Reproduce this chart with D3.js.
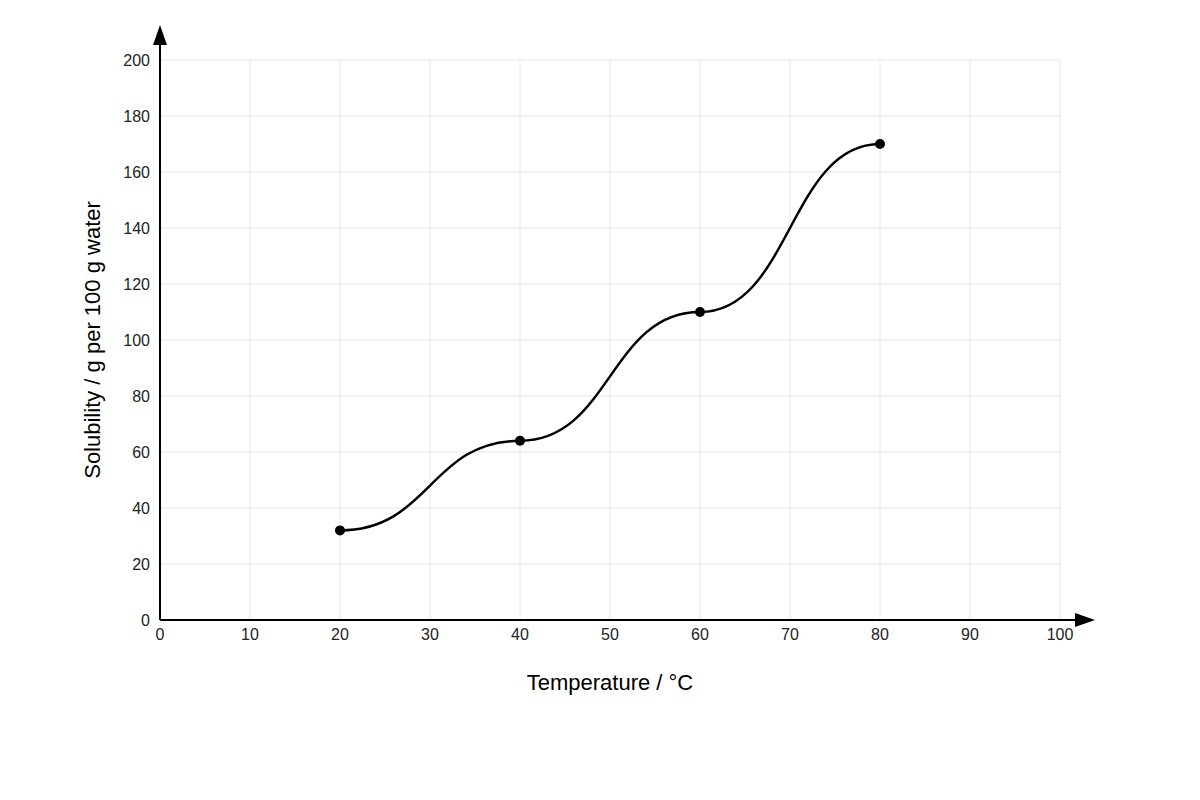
<!DOCTYPE html>
<html><head><meta charset="utf-8">
<script src="https://cdn.jsdelivr.net/npm/d3@7"></script>
<style>body{margin:0;background:#fff}text{font-family:"Liberation Sans",Arial,sans-serif}</style>
</head><body>
<svg id="c" width="1200" height="800"></svg>
<script>
// data
var temps = [20, 40, 60, 80];
var solubility = [32, 64, 110, 170];
var xTicks = [0, 10, 20, 30, 40, 50, 60, 70, 80, 90, 100];
var yTicks = [0, 20, 40, 60, 80, 100, 120, 140, 160, 180, 200];

var svg = d3.select('#c');
var x = d3.scaleLinear().domain([0, 100]).range([160, 1060]);
var y = d3.scaleLinear().domain([0, 200]).range([620, 60]);

// grid
svg.append('g').selectAll('line').data(xTicks.slice(1)).enter().append('line')
    .attr('x1', x).attr('x2', x).attr('y1', y(0)).attr('y2', y(200))
    .attr('stroke', '#e6e6e6').attr('stroke-width', 1);
svg.append('g').selectAll('line').data(yTicks.slice(1)).enter().append('line')
    .attr('x1', x(0)).attr('x2', x(100)).attr('y1', y).attr('y2', y)
    .attr('stroke', '#e6e6e6').attr('stroke-width', 1);

// axes
svg.append('line').attr('x1', x(0)).attr('x2', 1080).attr('y1', y(0)).attr('y2', y(0))
    .attr('stroke', '#000').attr('stroke-width', 2);
svg.append('line').attr('x1', x(0)).attr('x2', x(0)).attr('y1', y(0)).attr('y2', 40)
    .attr('stroke', '#000').attr('stroke-width', 2);
svg.append('path').attr('d', 'M1095,620 L1075,613 L1075,627 Z').attr('fill', '#000');
svg.append('path').attr('d', 'M160,25 L153,45 L167,45 Z').attr('fill', '#000');

// tick labels
svg.append('g').selectAll('text').data(xTicks).enter().append('text')
    .attr('x', x).attr('y', y(0) + 20).attr('text-anchor', 'middle')
    .attr('font-size', 16).attr('fill', '#222').text(function (d) { return d; });
svg.append('g').selectAll('text').data(yTicks).enter().append('text')
    .attr('x', x(0) - 10).attr('y', function (d) { return y(d) + 6; }).attr('text-anchor', 'end')
    .attr('font-size', 16).attr('fill', '#222').text(function (d) { return d; });

// axis titles
svg.append('text').attr('x', 610).attr('y', 690).attr('text-anchor', 'middle')
    .attr('font-size', 22).text('Temperature / °C');
svg.append('text').attr('transform', 'translate(100,340) rotate(-90)').attr('text-anchor', 'middle')
    .attr('font-size', 22).text('Solubility / g per 100 g water');

// curve
var pts = temps.map(function (t, i) { return [t, solubility[i]]; });
var line = d3.line().x(function (d) { return x(d[0]); }).y(function (d) { return y(d[1]); })
    .curve(d3.curveBumpX);
svg.append('path').datum(pts).attr('d', line).attr('fill', 'none')
    .attr('stroke', '#000').attr('stroke-width', 2.5);
svg.append('g').selectAll('circle').data(pts).enter().append('circle')
    .attr('cx', function (d) { return x(d[0]); }).attr('cy', function (d) { return y(d[1]); })
    .attr('r', 5).attr('fill', '#000');
</script>
</body></html>
